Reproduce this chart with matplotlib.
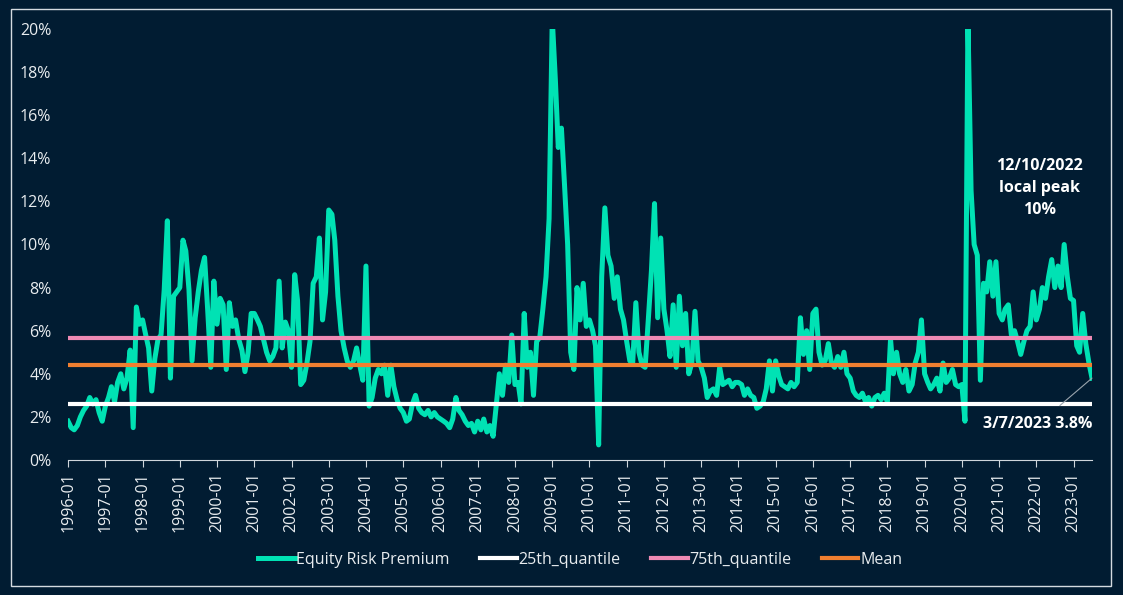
import pandas as pd
import numpy as np
import matplotlib
matplotlib.use('Agg')
import matplotlib.pyplot as plt
import matplotlib.dates as mdates
from matplotlib.patches import Rectangle

# colours
BG     = '#011c32'
TEAL   = '#00e2b4'
PINK   = '#ee8ab4'
ORANGE = '#f07f30'
TXT    = '#e8ecef'

plt.rcParams['font.family'] = ['Open Sans', 'DejaVu Sans']

# monthly equity risk premium (%), Jan 1996 -> Jul 2023
erp_1996_2003 = [
    1.8, 1.5, 1.4, 1.6, 2.0, 2.3, 2.5, 2.9, 2.6, 2.8, 2.2, 1.8,
    2.5, 2.9, 3.4, 2.7, 3.6, 4.0, 3.3, 3.8, 5.1, 1.5, 7.1, 6.3,
    6.5, 5.8, 5.2, 3.2, 4.7, 5.6, 5.8, 7.9, 11.1, 3.8, 7.6, 7.8,
    8.0, 10.2, 9.7, 7.9, 4.6, 6.6, 7.8, 8.8, 9.4, 7.0, 4.3, 8.3,
    6.3, 7.5, 7.2, 4.2, 7.3, 6.2, 6.5, 5.6, 5.1, 4.1, 5.0, 6.8,
    6.8, 6.5, 6.2, 5.6, 5.0, 4.6, 4.8, 5.2, 8.3, 5.2, 6.4, 6.0,
    4.3, 8.6, 7.4, 3.5, 3.7, 4.5, 5.5, 8.2, 8.5, 10.3, 6.5, 7.8,
    11.6, 11.4, 10.2, 7.6, 6.0, 5.2, 4.6, 4.3, 4.6, 5.2, 4.4, 3.7,
]
erp_2004_2011 = [
    9.0, 2.5, 2.9, 3.8, 4.2, 4.0, 4.4, 3.0, 4.4, 3.4, 2.8, 2.4,
    2.2, 1.8, 1.9, 2.6, 3.0, 2.4, 2.2, 2.1, 2.3, 2.0, 2.2, 2.0,
    1.9, 1.8, 1.7, 1.5, 1.9, 2.9, 2.3, 2.1, 1.8, 1.6, 1.7, 1.3,
    1.8, 1.4, 1.9, 1.3, 1.6, 1.1, 2.5, 4.0, 3.0, 4.4, 3.6, 5.8,
    3.5, 3.6, 2.6, 6.8, 4.3, 5.0, 3.0, 5.5, 5.7, 7.0, 8.5, 11.2,
    20.5, 17.6, 14.5, 15.4, 12.8, 10.0, 5.0, 4.2, 8.0, 6.5, 8.2, 6.2,
    6.5, 6.0, 5.3, 0.7, 8.5, 11.7, 9.5, 9.0, 7.5, 8.5, 7.0, 6.5,
    5.5, 4.6, 4.5, 7.3, 5.0, 4.4, 4.3, 6.5, 8.8, 11.9, 6.6, 10.3,
]
erp_2012_2019 = [
    7.0, 6.0, 4.8, 7.2, 4.3, 7.6, 5.3, 6.8, 4.0, 4.5, 6.9, 4.6,
    4.3, 3.8, 2.9, 3.2, 3.3, 3.0, 4.3, 3.5, 3.6, 3.7, 3.4, 3.6,
    3.6, 3.5, 3.0, 3.3, 3.0, 2.9, 2.4, 2.5, 2.7, 3.3, 4.6, 3.2,
    4.6, 3.9, 3.5, 3.4, 3.3, 3.6, 3.4, 3.6, 6.6, 4.9, 6.0, 4.2,
    6.8, 7.0, 5.0, 4.4, 4.6, 5.4, 4.5, 4.3, 4.8, 4.3, 5.0, 4.0,
    3.8, 3.2, 3.0, 2.9, 3.1, 2.7, 2.9, 2.5, 2.9, 3.0, 2.8, 3.1,
    2.7, 5.6, 4.0, 5.0, 4.0, 3.6, 4.2, 3.2, 3.5, 4.5, 5.0, 6.5,
    4.0, 3.6, 3.3, 3.5, 3.8, 3.2, 4.5, 3.6, 3.8, 4.2, 3.5, 3.4,
]
erp_2020_2023 = [
    3.5, 1.8, 20.5, 12.5, 10.0, 9.5, 3.7, 8.2, 7.8, 9.2, 7.6, 9.2,
    6.8, 6.5, 7.0, 7.2, 5.8, 6.0, 5.5, 4.9, 5.5, 6.0, 6.2, 7.8,
    6.5, 7.0, 8.0, 7.5, 8.5, 9.3, 8.0, 9.0, 8.0, 10.0, 8.5, 7.5,
    7.4, 5.3, 5.0, 6.8, 5.4, 4.5, 3.8,
]
erp = erp_1996_2003 + erp_2004_2011 + erp_2012_2019 + erp_2020_2023

q25  = 2.6
q75  = 5.68
mean = 4.42

peak_label = '12/10/2022\nlocal peak\n10%'
last_label = '3/7/2023 3.8%'

dates = pd.date_range('1996-01-01', periods=len(erp), freq='MS')

fig = plt.figure(figsize=(11.23, 5.95), dpi=100, facecolor=BG)
ax = fig.add_axes([0.0606, 0.2269, 0.9118, 0.7244])
ax.set_facecolor(BG)

ax.plot(dates, erp, color=TEAL, lw=3.6, label='Equity Risk Premium')
ax.plot(dates, [q25] * len(dates), color='white', lw=3, label='25th_quantile')
ax.plot(dates, [q75] * len(dates), color=PINK, lw=3, label='75th_quantile')
ax.plot(dates, [mean] * len(dates), color=ORANGE, lw=3, label='Mean')

ax.set_ylim(0, 20)
ax.set_xlim(dates[0], dates[-1])
ax.set_yticks(np.arange(0, 21, 2))
ax.set_yticklabels([f'{v}%' for v in range(0, 21, 2)])
ax.xaxis.set_major_locator(mdates.YearLocator())
ax.xaxis.set_major_formatter(mdates.DateFormatter('%Y-%m'))
plt.setp(ax.get_xticklabels(), rotation=90)

for s in ['top', 'right', 'left']:
    ax.spines[s].set_visible(False)
ax.spines['bottom'].set_color('#cfd6dc')
ax.tick_params(axis='y', length=0, pad=12, labelcolor=TXT, labelsize=11.5)
ax.tick_params(axis='x', length=5, color='#cfd6dc', labelcolor=TXT, labelsize=11.5)

# annotations
ax.text(pd.Timestamp('2022-02-01'), 12.6, peak_label, color='white', fontsize=11.5,
        fontweight='bold', ha='center', va='center', linespacing=1.5)
ax.annotate(last_label, xy=(dates[-1], erp[-1]), xytext=(pd.Timestamp('2022-01-15'), 1.65),
            color='white', fontsize=11.5, fontweight='bold', ha='center', va='center',
            arrowprops=dict(arrowstyle='-', color='#9aa4ad', lw=0.8, shrinkA=9, shrinkB=0))

leg = ax.legend(loc='center', bbox_to_anchor=(0.5, -0.232), ncol=4, frameon=False,
                fontsize=11.5, handlelength=2.3, columnspacing=1.9, handletextpad=0.1)
for t in leg.get_texts():
    t.set_color(TXT)

# outer frame
fig.patches.append(Rectangle((11 / 1123, 9 / 595), 1100 / 1123, 577 / 595,
                             transform=fig.transFigure, fill=False,
                             edgecolor='#d5dbe0', lw=1))

fig.savefig('out.png', dpi=100, facecolor=BG)
